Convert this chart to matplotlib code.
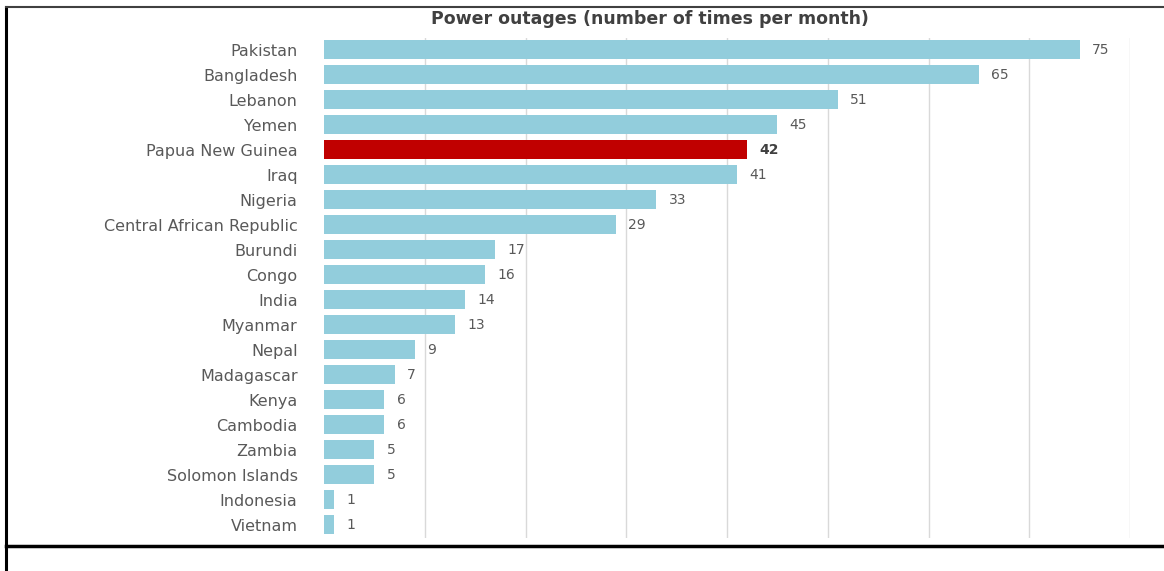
import matplotlib.pyplot as plt
from matplotlib.lines import Line2D

countries = ["Pakistan", "Bangladesh", "Lebanon", "Yemen", "Papua New Guinea",
             "Iraq", "Nigeria", "Central African Republic", "Burundi", "Congo",
             "India", "Myanmar", "Nepal", "Madagascar", "Kenya", "Cambodia",
             "Zambia", "Solomon Islands", "Indonesia", "Vietnam"]
outages = [75, 65, 51, 45, 42, 41, 33, 29, 17, 16, 14, 13, 9, 7, 6, 6, 5, 5, 1, 1]
highlight = "Papua New Guinea"

W, H = 1164, 571
fig = plt.figure(figsize=(W / 100, H / 100), dpi=100)
ax = fig.add_axes([324 / W, 1 - 537.5 / H, (1130 - 324) / W, 500 / H])

colors = ["#C00000" if c == highlight else "#92CDDC" for c in countries]
ypos = range(len(countries))
ax.barh(ypos, outages, height=0.76, color=colors, zorder=2)

for y, v, c in zip(ypos, outages, countries):
    bold = c == highlight
    ax.text(v + 1.2, y, str(v), va="center", ha="left", fontsize=10,
            color="#404040" if bold else "#595959",
            fontweight="bold" if bold else "normal")

ax.set_yticks(list(ypos))
ax.set_yticklabels(countries, fontsize=11.5, color="#595959")
ax.tick_params(axis="y", length=0, pad=19)
ax.tick_params(axis="x", length=0, labelbottom=False)
ax.set_xlim(0, 80)
ax.set_ylim(len(countries) - 0.5, -0.5)
ax.set_xticks(range(10, 81, 10))
ax.grid(axis="x", color="#D9D9D9", linewidth=1, zorder=0)
for s in ax.spines.values():
    s.set_visible(False)

fig.text(650 / W, 1 - 19 / H, "Power outages (number of times per month)",
         ha="center", va="center", fontsize=12.5, fontweight="bold", color="#404040")

# frame around the chart
fig.add_artist(Line2D([6 / W, 6 / W], [0, 1 - 7 / H], color="black", linewidth=2.2))
fig.add_artist(Line2D([6 / W, 1], [1 - 7 / H, 1 - 7 / H], color="#404040", linewidth=1.5))
fig.add_artist(Line2D([6 / W, 1], [1 - 546 / H, 1 - 546 / H], color="black", linewidth=2.5))

fig.savefig("out.png", dpi=100)
